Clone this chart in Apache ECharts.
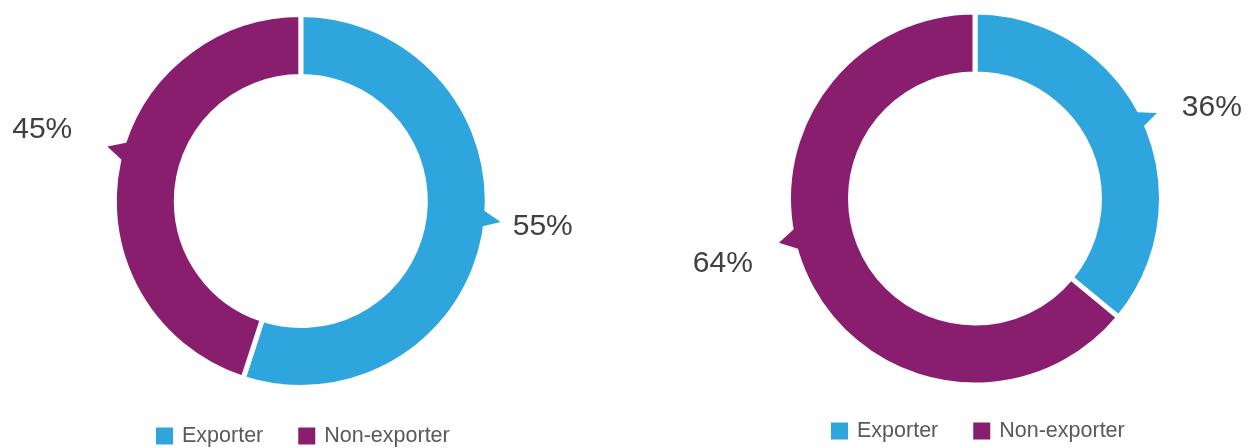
<!DOCTYPE html>
<html>
<head>
<meta charset="utf-8">
<style>
  html, body { margin: 0; padding: 0; background: #ffffff; }
  #chart { width: 1247px; height: 448px; }
</style>
<script src="https://cdn.jsdelivr.net/npm/echarts@6/dist/echarts.min.js"></script>
</head>
<body>
<div id="chart"></div>
<script>
// Share of firms, two survey groups
const categories = ['Exporter', 'Non-exporter'];
const firstShares = [55, 45];
const secondShares = [36, 64];

const sliceColors = ['#2ea5dd', '#891e6f'];
const textColor = '#404040';
const legendColor = '#595959';
const fontFamily = '"Liberation Sans", Arial, Helvetica, sans-serif';

// Callout pointers: base start/end and tip angle (degrees clockwise from 12 o'clock),
// and where the value text sits relative to the pointer tip.
const firstCallouts = [
  { from: 92, to: 98.5, tip: 96, dx: 12, dy: 5, align: 'left' },
  { from: 289.5, to: 282, tip: 285.7, dx: -35, dy: -17, align: 'right' }
];
const secondCallouts = [
  { from: 61, to: 67.5, tip: 64.8, dx: 25, dy: -5, align: 'left' },
  { from: 261.5, to: 253, tip: 257.3, dx: -26, dy: 21, align: 'right' }
];
const tipReach = 14.5;

const chart = echarts.init(document.getElementById('chart'), null, { renderer: 'canvas' });

function pieData(shares) {
  return categories.map((name, i) => ({
    name: name,
    value: shares[i],
    itemStyle: { color: sliceColors[i] }
  }));
}

function donut(center, shares) {
  return {
    type: 'pie',
    center: center,
    radius: [124.5, 186.5],
    startAngle: 90,
    clockwise: true,
    silent: true,
    label: { show: false },
    labelLine: { show: false },
    itemStyle: { borderColor: '#ffffff', borderWidth: 5 },
    data: pieData(shares)
  };
}

function legendAt(left, top) {
  return {
    data: categories,
    left: left,
    top: top,
    padding: 0,
    icon: 'rect',
    itemWidth: 17,
    itemHeight: 17,
    itemGap: 35,
    selectedMode: false,
    itemStyle: { borderWidth: 0 },
    textStyle: {
      color: legendColor,
      fontSize: 21.5,
      fontFamily: fontFamily,
      padding: [0, 0, 0, 4]
    }
  };
}

chart.setOption({
  animation: false,
  color: sliceColors,
  legend: [legendAt(156, 425), legendAt(831, 420)],
  series: [
    donut([300.8, 201], firstShares),
    donut([975, 198.5], secondShares)
  ]
});

function polarPoint(lay, angleDeg, radius) {
  const a = angleDeg * Math.PI / 180;
  return [lay.cx + radius * Math.sin(a), lay.cy - radius * Math.cos(a)];
}

// Pointer triangles and value labels, placed from each slice's computed layout
function addCallouts() {
  const model = chart.getModel();
  const elements = [];
  [[firstShares, firstCallouts], [secondShares, secondCallouts]].forEach(function (pair, si) {
    const shares = pair[0];
    const callouts = pair[1];
    const data = model.getSeriesByIndex(si).getData();
    callouts.forEach(function (c, i) {
      const lay = data.getItemLayout(i);
      const tip = polarPoint(lay, c.tip, lay.r + tipReach);
      elements.push({
        type: 'polygon',
        silent: true,
        z: 10,
        shape: {
          points: [
            polarPoint(lay, c.from, lay.r - 8),
            tip,
            polarPoint(lay, c.to, lay.r - 8)
          ]
        },
        style: { fill: data.getItemVisual(i, 'style').fill || sliceColors[i] }
      });
      elements.push({
        type: 'text',
        silent: true,
        z: 10,
        x: tip[0] + c.dx,
        y: tip[1] + c.dy,
        style: {
          text: shares[i] + '%',
          fontSize: 30,
          fontFamily: fontFamily,
          fill: textColor,
          align: c.align,
          verticalAlign: 'middle'
        }
      });
    });
  });
  chart.setOption({ graphic: { elements: elements } });
}

addCallouts();
</script>
</body>
</html>
